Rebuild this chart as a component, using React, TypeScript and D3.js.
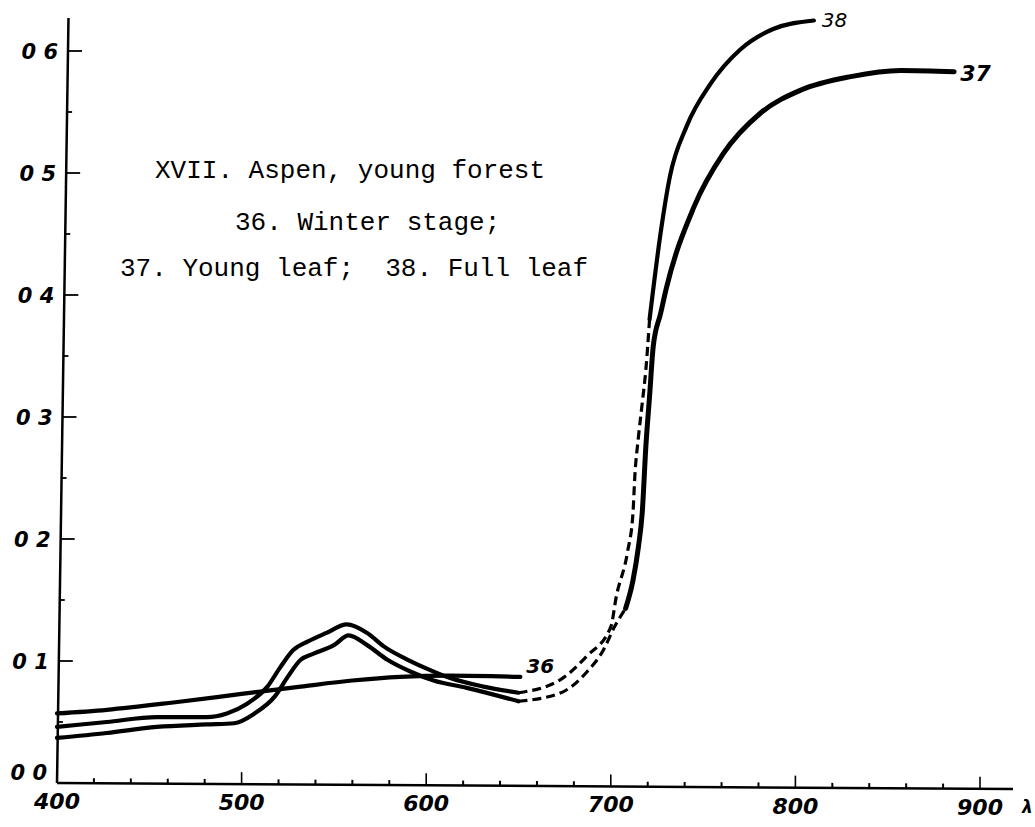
import { useEffect, useRef } from "react";
import * as d3 from "d3";

type Pt = [number, number];

// wavelength (nm) / reflectance
const winterNm = [400, 427, 463, 500, 532, 560, 586, 613, 651];
const winterVal = [0.057, 0.06, 0.066, 0.073, 0.079, 0.084, 0.087, 0.088, 0.087];

const youngVisNm = [400, 427, 454, 481, 496, 507, 518, 525, 532, 539, 550, 558, 568, 579, 592, 604, 622, 650];
const youngVisVal = [0.037, 0.041, 0.046, 0.048, 0.049, 0.057, 0.071, 0.087, 0.101, 0.106, 0.113, 0.121, 0.113, 0.101, 0.091, 0.084, 0.078, 0.067];
const youngGapNm = [650, 673, 687, 696, 702, 708];
const youngGapVal = [0.067, 0.074, 0.091, 0.109, 0.128, 0.143];
const youngIrNm = [708, 712, 715, 717, 719, 721, 723, 727, 730, 745, 761, 781, 803, 830, 857, 886];
const youngIrVal = [0.143, 0.166, 0.194, 0.221, 0.276, 0.317, 0.358, 0.385, 0.405, 0.472, 0.516, 0.549, 0.568, 0.579, 0.584, 0.583];

const fullVisNm = [400, 427, 454, 481, 492, 503, 514, 521, 528, 536, 546, 557, 568, 577, 590, 600, 613, 631, 650];
const fullVisVal = [0.046, 0.05, 0.054, 0.054, 0.057, 0.065, 0.079, 0.095, 0.109, 0.116, 0.123, 0.13, 0.123, 0.112, 0.101, 0.094, 0.086, 0.079, 0.074];
const fullGapNm = [650, 673, 687, 700, 703, 709, 712, 713, 715, 717, 719, 721];
const fullGapVal = [0.074, 0.085, 0.104, 0.128, 0.153, 0.189, 0.221, 0.251, 0.284, 0.311, 0.339, 0.38];
const fullIrNm = [721, 727, 732, 741, 754, 770, 788, 810];
const fullIrVal = [0.38, 0.451, 0.497, 0.538, 0.573, 0.601, 0.618, 0.625];

const xMajor = [400, 500, 600, 700, 800, 900];
const xMajorLabels = ["400", "500", "600", "700", "800", "900"];
const yMajor = [0, 0.1, 0.2, 0.3, 0.4, 0.5, 0.6];
const yMajorLabels = ["0 0", "0 1", "0 2", "0 3", "0 4", "0 5", "0 6"];

const titleLines = ["XVII. Aspen, young forest", "36. Winter stage;", "37. Young leaf;  38. Full leaf"];

const zip = (a: number[], b: number[]): Pt[] => a.map((v, i) => [v, b[i]]);

export default function App() {
  const svgRef = useRef<SVGSVGElement | null>(null);

  useEffect(() => {
    if (!svgRef.current) return;
    const width = 1035;
    const height = 827;
    const svg = d3.select(svgRef.current);
    svg.selectAll("*").remove();
    svg.attr("width", width).attr("height", height);

    const x = d3.scaleLinear().domain([400, 900]).range([57, 980]);
    const y = d3.scaleLinear().domain([0, 0.6]).range([783, 51]);
    const x0 = x(400);
    const y0 = y(0);
    // the printed axes are slightly askew
    const ax = (v: number) => x0 + 11 * v / 0.6;
    const tilt = (v: number) => y0 + 6 * (x(v) - x0) / (1013 - x0);
    const axisTop = 18;

    const tickFont = (sel: d3.Selection<any, any, any, any>) =>
      sel.attr("font-family", "DejaVu Sans").attr("font-weight", 700).attr("font-style", "italic");

    // axes
    svg.append("line").attr("x1", x0).attr("x2", ax(y.invert(axisTop))).attr("y1", y0).attr("y2", axisTop)
      .attr("stroke", "#000").attr("stroke-width", 2.5);
    svg.append("line").attr("x1", x0).attr("x2", 1013).attr("y1", y0).attr("y2", tilt(x.invert(1013)))
      .attr("stroke", "#000").attr("stroke-width", 2.5);

    // y ticks (inside)
    const yMinor = d3.range(0.05, 0.6, 0.1);
    svg.selectAll("line.ymaj").data(yMajor.slice(1)).enter().append("line")
      .attr("x1", d => ax(d)).attr("x2", d => ax(d) + 14).attr("y1", d => y(d)).attr("y2", d => y(d))
      .attr("stroke", "#000").attr("stroke-width", 1.8);
    svg.selectAll("line.ymin").data(yMinor).enter().append("line")
      .attr("x1", d => ax(d)).attr("x2", d => ax(d) + 5).attr("y1", d => y(d)).attr("y2", d => y(d))
      .attr("stroke", "#000").attr("stroke-width", 1.8);
    tickFont(svg.selectAll("text.ylab").data(yMajor).enter().append("text")
      .attr("x", d => ax(d) - 10).attr("y", d => y(d) + (d === 0 ? -3 : 8))
      .attr("text-anchor", "end")
      .attr("font-size", 21)
      .text((_, i) => yMajorLabels[i]));

    // x ticks (inside)
    const xMinor = d3.range(420, 900, 20).filter(v => v % 100 !== 0);
    svg.selectAll("line.xmaj").data(xMajor.slice(1)).enter().append("line")
      .attr("x1", d => x(d)).attr("x2", d => x(d)).attr("y1", d => tilt(d)).attr("y2", d => tilt(d) - 12)
      .attr("stroke", "#000").attr("stroke-width", 1.6);
    svg.selectAll("line.xmin").data(xMinor).enter().append("line")
      .attr("x1", d => x(d)).attr("x2", d => x(d)).attr("y1", d => tilt(d)).attr("y2", d => tilt(d) - 5)
      .attr("stroke", "#000").attr("stroke-width", 2);
    tickFont(svg.selectAll("text.xlab").data(xMajor).enter().append("text")
      .attr("x", d => x(d)).attr("y", d => tilt(d) + 26)
      .attr("text-anchor", "middle")
      .attr("font-size", 22)
      .text((_, i) => xMajorLabels[i]));
    tickFont(svg.append("text").attr("x", 1022).attr("y", tilt(900) + 24)
      .attr("font-size", 17).text("λ"));

    // curves
    const line = d3.line<Pt>().x(d => x(d[0])).y(d => y(d[1])).curve(d3.curveMonotoneX);
    const solid = (pts: Pt[], w: number) =>
      svg.append("path").datum(pts).attr("d", line).attr("fill", "none")
        .attr("stroke", "#000").attr("stroke-width", w).attr("stroke-linecap", "round");
    const dashed = (pts: Pt[]) =>
      svg.append("path").datum(pts).attr("d", line).attr("fill", "none")
        .attr("stroke", "#000").attr("stroke-width", 3.2).attr("stroke-dasharray", "9,5");

    solid(zip(winterNm, winterVal), 4.2);
    solid(zip(youngVisNm, youngVisVal), 4.2);
    solid(zip(fullVisNm, fullVisVal), 4.2);
    dashed(zip(youngGapNm, youngGapVal));
    dashed(zip(fullGapNm, fullGapVal));
    solid(zip(youngIrNm, youngIrVal), 5);
    solid(zip(fullIrNm, fullIrVal), 4.2);

    // curve numbers
    const tag = (t: string, nm: number, v: number, dx: number, dy: number, size: number, weight: number) =>
      svg.append("text").attr("x", x(nm) + dx).attr("y", y(v) + dy)
        .attr("font-family", "DejaVu Sans").attr("font-style", "italic").attr("font-weight", weight)
        .attr("font-size", size).text(t);
    tag("36", winterNm[winterNm.length - 1], winterVal[winterVal.length - 1], 6, -4, 20, 700);
    tag("38", fullIrNm[fullIrNm.length - 1], fullIrVal[fullIrVal.length - 1], 8, 6, 20, 400);
    tag("37", youngIrNm[youngIrNm.length - 1], youngIrVal[youngIrVal.length - 1], 6, 9, 22, 700);

    // inset caption
    const cap = svg.append("g").attr("font-family", "Liberation Mono").attr("font-size", 26).attr("fill", "#000");
    cap.append("text").attr("x", 155).attr("y", 178).text(titleLines[0]);
    cap.append("text").attr("x", 235).attr("y", 230).text(titleLines[1]);
    cap.append("text").attr("x", 120).attr("y", 276).style("white-space", "pre").text(titleLines[2]);
  }, []);

  return <svg ref={svgRef} style={{ position: "absolute", left: 0, top: 0, background: "#fff" }} />;
}
